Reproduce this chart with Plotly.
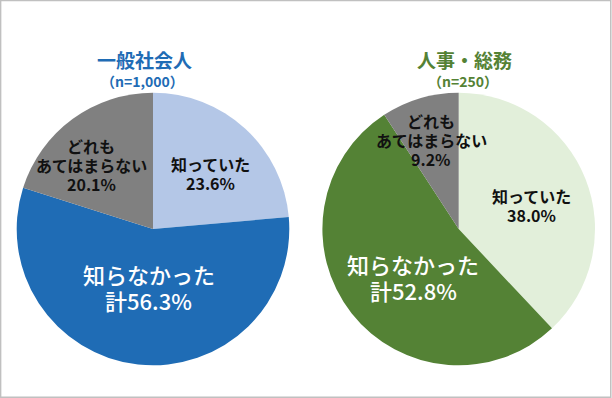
import math
import plotly.graph_objects as go

# ---- data ----
categories = ["知っていた", "知らなかった", "どれもあてはまらない"]
label_lines = [["知っていた"], ["知らなかった", "計"], ["どれも", "あてはまらない"]]
general_values = [23.6, 56.3, 20.1]
hr_values = [38.0, 52.8, 9.2]
group_titles = ["一般社会人", "人事・総務"]
group_ns = ["（n=1,000）", "（n=250）"]

# ---- styles ----
W, H = 612, 398
FONT = "Noto Sans CJK JP"
general_colors = ["#b4c7e7", "#1f6cb5", "#808080"]
hr_colors = ["#e2efda", "#548235", "#808080"]
title_colors = ["#1f6cb5", "#548235"]
label_colors = ["#111111", "#ffffff", "#111111"]
label_sizes = [16, 22, 16]
label_weights = [700, 500, 700]
line_gaps = [19, 26, 19]
centers = [(153, 229), (458.7, 229)]
title_x = [144, 464]
n_x = [142, 463]
R = 136.3
# per-label placement tweaks (radius fraction, angle adjust in deg)
placement = [
    [(0.582, 3.5), (0.424, -2.3), (0.65, -7.9)],
    [(0.557, 3.95), (0.486, -8.8), (0.684, -0.7)],
]

fig = go.Figure()
annotations = []
for gi, (vals, cols) in enumerate([(general_values, general_colors), (hr_values, hr_colors)]):
    cx, cy = centers[gi]
    fig.add_trace(go.Pie(
        labels=categories, values=vals, sort=False, direction="clockwise", rotation=0,
        marker=dict(colors=cols, line=dict(width=0)),
        textinfo="none", hoverinfo="label+percent", showlegend=False,
        domain=dict(x=[(cx - R) / W, (cx + R) / W], y=[1 - (cy + R) / H, 1 - (cy - R) / H]),
    ))
    total = sum(vals)
    cum = 0.0
    for i, v in enumerate(vals):
        mid = (cum + v / 2) / total * 360
        cum += v
        frac, dth = placement[gi][i]
        th = math.radians(mid + dth)
        px = cx + frac * R * math.sin(th)
        py = cy - frac * R * math.cos(th)
        pct = f"{v:.1f}%"
        lines = list(label_lines[i])
        if i == 1:
            lines[-1] = lines[-1] + pct
        else:
            lines.append(pct)
        n = len(lines)
        for j, ln in enumerate(lines):
            ly = py + (j - (n - 1) / 2) * line_gaps[i]
            annotations.append(dict(
                x=px / W, y=1 - ly / H, xref="paper", yref="paper", showarrow=False,
                text=ln,
                font=dict(family=FONT, size=label_sizes[i], color=label_colors[i], weight=label_weights[i]),
                xanchor="center", yanchor="middle", align="center",
            ))
    annotations.append(dict(
        x=title_x[gi] / W, y=1 - 59 / H, xref="paper", yref="paper", showarrow=False,
        text=f"<b>{group_titles[gi]}</b>", font=dict(family=FONT, size=19, color=title_colors[gi]),
        xanchor="center", yanchor="middle"))
    annotations.append(dict(
        x=n_x[gi] / W, y=1 - 81 / H, xref="paper", yref="paper", showarrow=False,
        text=f"<b>{group_ns[gi]}</b>", font=dict(family=FONT, size=14, color=title_colors[gi]),
        xanchor="center", yanchor="middle"))

fig.update_layout(
    width=W, height=H, margin=dict(l=0, r=0, t=0, b=0),
    paper_bgcolor="white", plot_bgcolor="white",
    annotations=annotations,
    shapes=[dict(type="rect", xref="paper", yref="paper", x0=0.001, y0=0.002, x1=0.998, y1=0.999,
                 line=dict(color="#c0c0c0", width=1.5))],
)
fig.write_html("out.html", config={"displayModeBar": False},
               post_script="document.body.style.margin='0';document.body.style.overflow='hidden';")
